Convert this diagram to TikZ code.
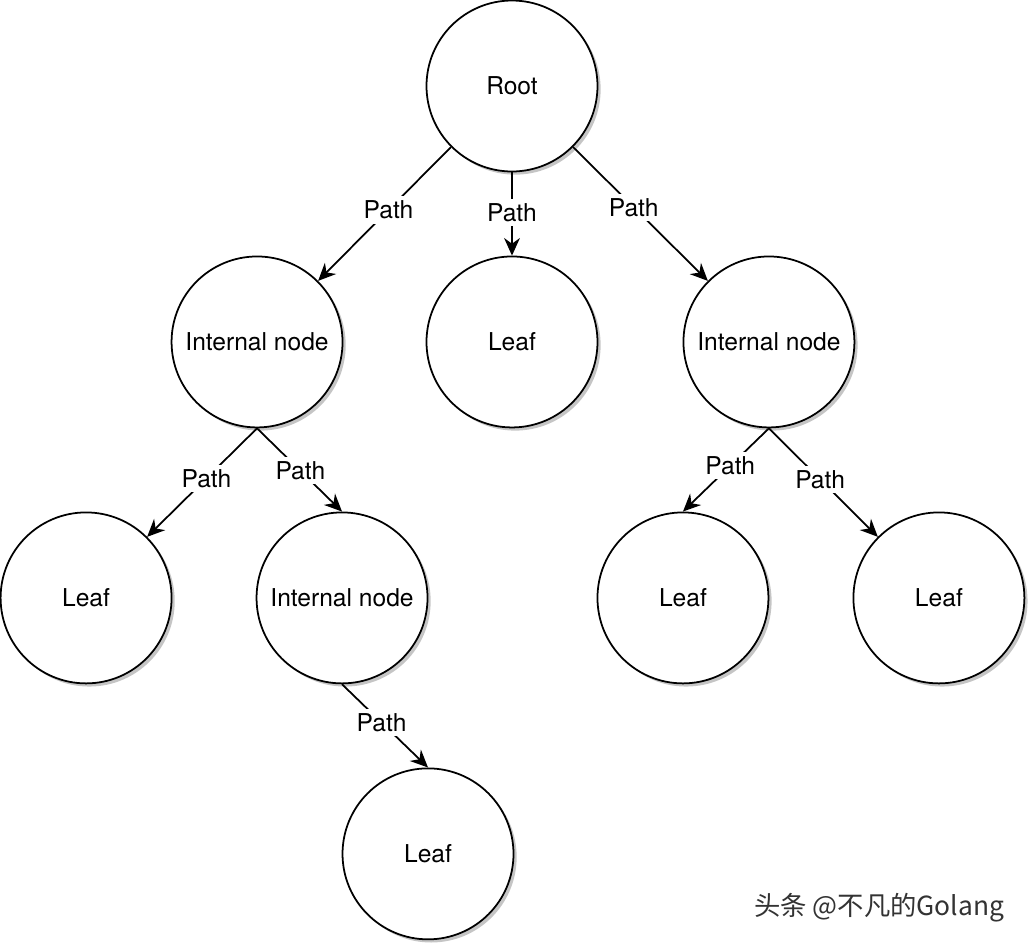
\documentclass[tikz,border=0pt]{standalone}
\usepackage{fontspec}
\setmainfont{TeX Gyre Heros}
\newfontfamily\cjkfont{Noto Sans CJK SC}
\usetikzlibrary{positioning,arrows.meta,shadows}

\begin{document}
\begin{tikzpicture}[
    x=0.02cm, y=-0.02cm,
    node distance=5.12cm, on grid,
    treenode/.style={circle, draw, line width=1pt, fill=white, minimum size=3.42cm,
      inner sep=0pt, font=\fontsize{14}{16}\selectfont,
      drop shadow={shadow xshift=1.8pt, shadow yshift=-1.8pt, fill=black!45, opacity=.5}},
    branch/.style={line width=1pt, -{Stealth[length=10pt,width=9pt]}},
    pathlabel/.style={fill=white, inner sep=2.5pt, font=\fontsize{14}{16}\selectfont}
  ]
        \useasboundingbox (-512,-86) rectangle (516,858);
        \node [treenode] (root) at (0,0) {Root};
        \node [treenode, below left=5.12cm and 5.1cm of root] (int1) {Internal node};
        \node [treenode, below=of root] (leaf1) {Leaf};
        \node [treenode, below right=5.12cm and 5.14cm of root] (int2) {Internal node};
        \node [treenode, below left=5.12cm and 3.42cm of int1] (leaf2) {Leaf};
        \node [treenode, below right=5.12cm and 1.7cm of int1] (int3) {Internal node};
        \node [treenode, below left=5.12cm and 1.72cm of int2] (leaf3) {Leaf};
        \node [treenode, below right=5.12cm and 3.4cm of int2] (leaf4) {Leaf};
        \node [treenode, below right=5.12cm and 1.72cm of int3] (leaf5) {Leaf};

        \draw [branch] (root.south west) -- node [pathlabel, pos=.47] {Path} (int1.north east);
        \draw [branch] (root.south) -- node [pathlabel, pos=.48] {Path} (leaf1.north);
        \draw [branch] (root.south east) -- node [pathlabel, pos=.45] {Path} (int2.north west);
        \draw [branch] (int1.south) -- node [pathlabel, pos=.46] {Path} (leaf2.north east);
        \draw [branch] (int1.south) -- node [pathlabel, pos=.51] {Path} (int3.north);
        \draw [branch] (int2.south) -- node [pathlabel, pos=.45] {Path} (leaf3.north);
        \draw [branch] (int2.south) -- node [pathlabel, pos=.47] {Path} (leaf4.north west);
        \draw [branch] (int3.south) -- node [pathlabel, pos=.46] {Path} (leaf5.north);

        \node [anchor=west, text=black!80, font=\cjkfont\fontsize{15}{18}\selectfont] (watermark) at (236,822) {头条 @不凡的Golang};
\end{tikzpicture}
\end{document}
